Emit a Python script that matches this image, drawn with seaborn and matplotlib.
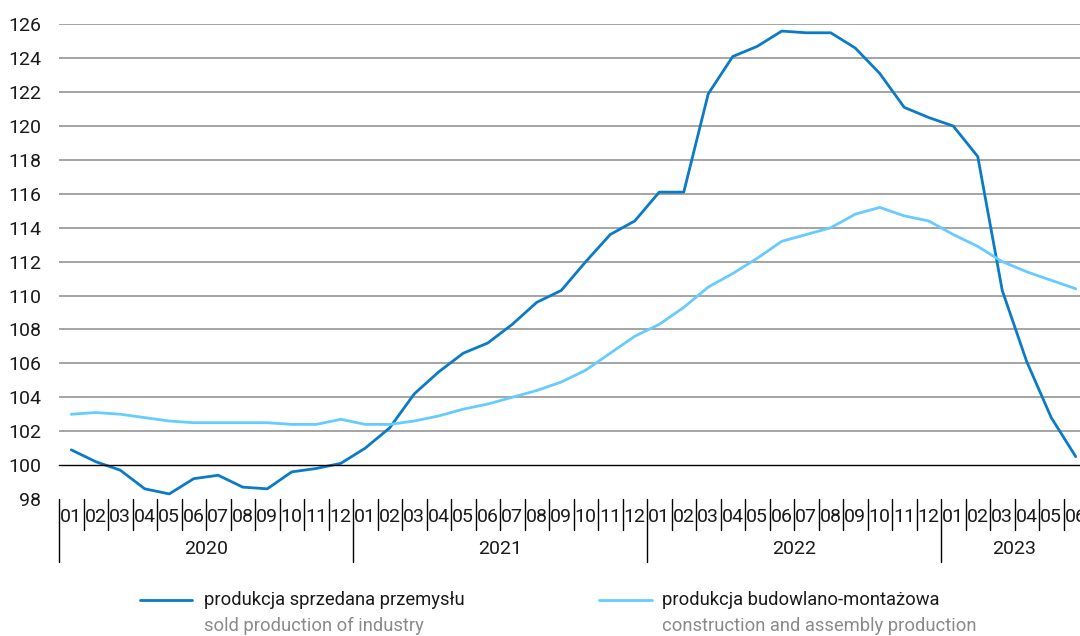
import matplotlib
matplotlib.use("Agg")
import matplotlib.pyplot as plt
from matplotlib import font_manager
from matplotlib.lines import Line2D
import matplotlib.transforms as mtransforms
import seaborn as sns
import pandas as pd

# dane: indeksy produkcji, 01.2020 - 06.2023
years = ["2020", "2021", "2022", "2023"]
months_per_year = [12, 12, 12, 6]
month_labels = ["01", "02", "03", "04", "05", "06", "07", "08", "09", "10", "11", "12"]

industry = [100.9, 100.2, 99.7, 98.6, 98.3, 99.2, 99.4, 98.7, 98.6, 99.6, 99.8, 100.1,
            101.0, 102.2, 104.2, 105.5, 106.6, 107.2, 108.3, 109.6, 110.3, 112.0, 113.6, 114.4,
            116.1, 116.1, 121.9, 124.1, 124.7, 125.6, 125.5, 125.5, 124.6, 123.1, 121.1, 120.5,
            120.0, 118.2, 110.3, 106.1, 102.8, 100.5]
construction = [103.0, 103.1, 103.0, 102.8, 102.6, 102.5, 102.5, 102.5, 102.5, 102.4, 102.4, 102.7,
                102.4, 102.4, 102.6, 102.9, 103.3, 103.6, 104.0, 104.4, 104.9, 105.6, 106.6, 107.6,
                108.3, 109.3, 110.5, 111.3, 112.2, 113.2, 113.6, 114.0, 114.8, 115.2, 114.7, 114.4,
                113.6, 112.9, 112.0, 111.4, 110.9, 110.4]

label_pl = ["produkcja sprzedana przemysłu", "produkcja budowlano-montażowa"]
label_en = ["sold production of industry", "construction and assembly production"]
colors = ["#0a7bc6", "#66ccff"]

df = pd.DataFrame({"idx": range(len(industry)), "industry": industry, "construction": construction})

sns.set_style("white")
names = {f.name for f in font_manager.fontManager.ttflist}
fam = "Liberation Sans Narrow" if "Liberation Sans Narrow" in names else "Roboto"
plt.rcParams["font.family"] = [fam, "DejaVu Sans"]

fig = plt.figure(figsize=(10.8, 6.36), dpi=100)
W, H = 1080, 636
left_px, top_px, bottom_px = 59, 24.3, 499
n = len(industry)
px_per_month = 24.5
ax = fig.add_axes([left_px / W, 1 - bottom_px / H, n * px_per_month / W, (bottom_px - top_px) / H])

sns.lineplot(data=df, x="idx", y="industry", ax=ax, color=colors[0], linewidth=2.0)
sns.lineplot(data=df, x="idx", y="construction", ax=ax, color=colors[1], linewidth=2.0)

ax.set_xlim(-0.5, n - 0.5)
ax.set_ylim(98, 126)
ax.set_yticks(range(98, 127, 2))
for v in range(102, 127, 2):
    ax.axhline(v, color="#8c8c8c", linewidth=1.1, zorder=0)

for s in ["top", "right", "left"]:
    ax.spines[s].set_visible(False)
ax.spines["bottom"].set_position(("data", 100))
ax.spines["bottom"].set_color("black")
ax.spines["bottom"].set_linewidth(1.0)
ax.set_xticks([i - 0.5 for i in range(n + 1)])
ax.tick_params(axis="x", direction="out", length=6, width=1, color="black", labelbottom=False)
ax.tick_params(axis="y", length=0, pad=13, labelsize=14, labelcolor="#1a1a1a")
ax.set_xlabel("")
ax.set_ylabel("")

# tabela kategorii pod osią
trans = mtransforms.blended_transform_factory(ax.transData, ax.transAxes)
axh = bottom_px - top_px
m_bot = -(530 - bottom_px) / axh
y_bot = -(562 - bottom_px) / axh
m_txt = -(517 - bottom_px) / axh
y_txt = -(549 - bottom_px) / axh

i = 0
for year, cnt in zip(years, months_per_year):
    ax.add_line(Line2D([i - 0.5, i - 0.5], [0, y_bot], transform=trans, color="black",
                       linewidth=1, clip_on=False))
    for k in range(cnt):
        x = i + k
        if k > 0:
            ax.add_line(Line2D([x - 0.5, x - 0.5], [0, m_bot], transform=trans, color="black",
                               linewidth=1, clip_on=False))
        ax.text(x, m_txt, month_labels[k], transform=trans, ha="center", va="center",
                fontsize=14, color="#1a1a1a")
    ax.text(i + (cnt - 1) / 2, y_txt, year, transform=trans, ha="center", va="center",
            fontsize=14, color="#1a1a1a")
    i += cnt
ax.add_line(Line2D([i - 0.5, i - 0.5], [0, y_bot], transform=trans, color="black",
                   linewidth=1, clip_on=False))

# legenda
leg_x = [(140, 192, 204), (599, 652, 662)]
for (x0, x1, xt), c, pl, en in zip(leg_x, colors, label_pl, label_en):
    fig.add_artist(Line2D([x0 / W, x1 / W], [1 - 600 / H, 1 - 600 / H], color=c, linewidth=2.0))
    fig.text(xt / W, 1 - 600 / H, pl, ha="left", va="center", fontsize=13.2, color="#1a1a1a")
    fig.text(xt / W, 1 - 626 / H, en, ha="left", va="center", fontsize=13.2, color="#8a8a8a")

fig.savefig("out.png", dpi=100)
